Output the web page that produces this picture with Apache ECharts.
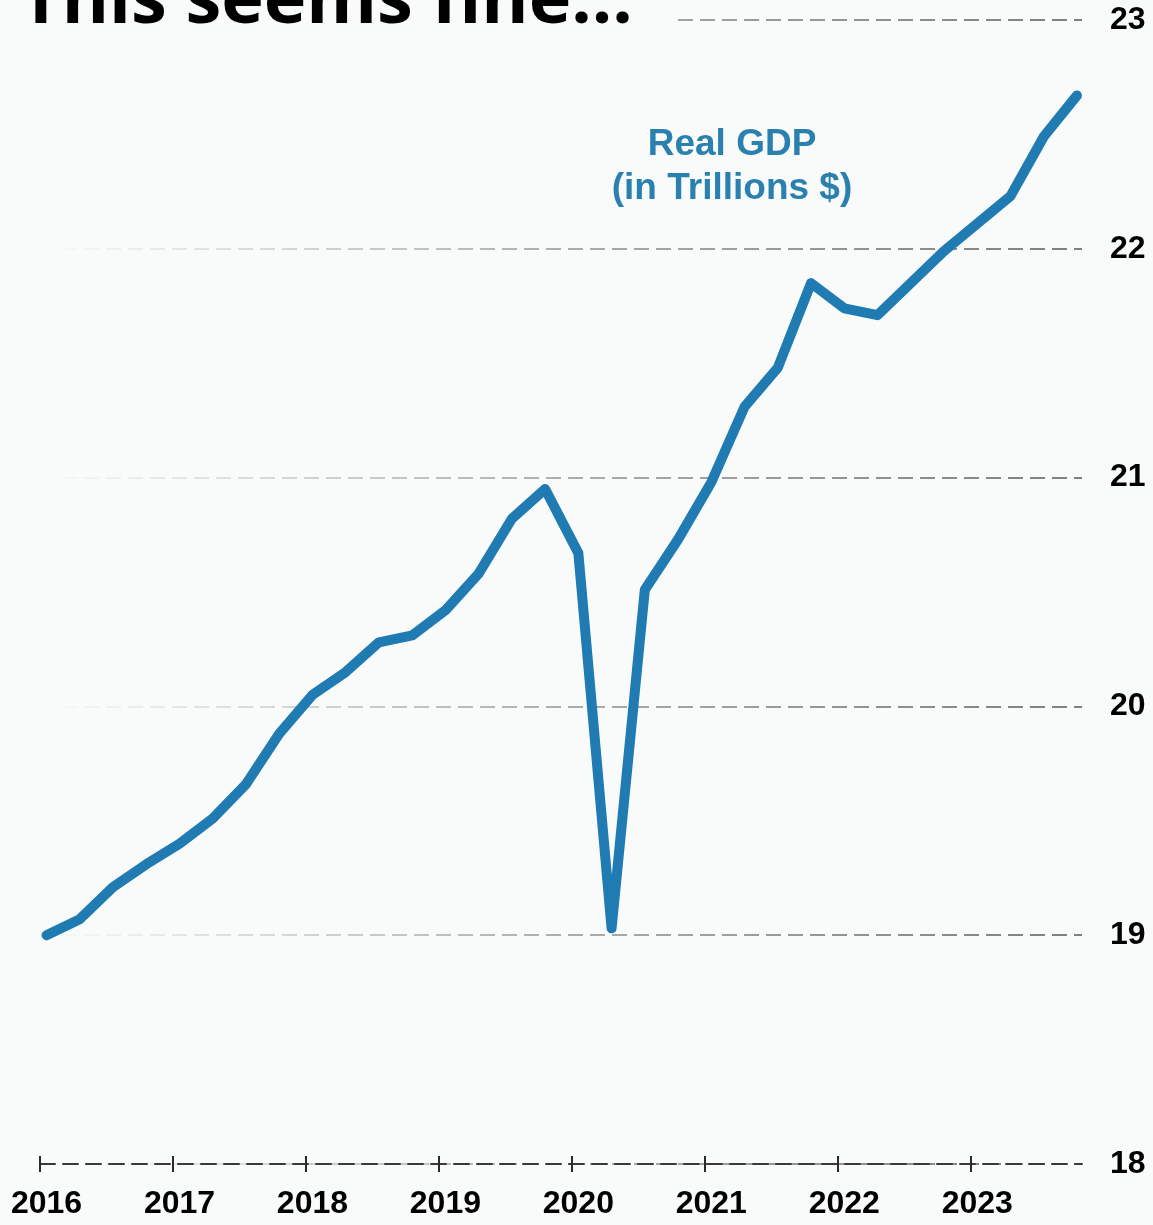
<!DOCTYPE html>
<html>
<head>
<meta charset="utf-8">
<script src="https://cdn.jsdelivr.net/npm/echarts@6/dist/echarts.min.js"></script>
<style>
  html, body { margin: 0; padding: 0; background: #f9fbfb; }
  #chart { width: 1153px; height: 1225px; }
</style>
</head>
<body>
<div id="chart"></div>
<script>
// Quarterly real GDP, trillions of dollars
const quarters = [
  '2016Q1', '2016Q2', '2016Q3', '2016Q4',
  '2017Q1', '2017Q2', '2017Q3', '2017Q4',
  '2018Q1', '2018Q2', '2018Q3', '2018Q4',
  '2019Q1', '2019Q2', '2019Q3', '2019Q4',
  '2020Q1', '2020Q2', '2020Q3', '2020Q4',
  '2021Q1', '2021Q2', '2021Q3', '2021Q4',
  '2022Q1', '2022Q2', '2022Q3', '2022Q4',
  '2023Q1', '2023Q2', '2023Q3', '2023Q4'
];
const gdp = [
  19.00, 19.07, 19.21, 19.31,
  19.40, 19.51, 19.66, 19.88,
  20.05, 20.15, 20.28, 20.31,
  20.42, 20.58, 20.82, 20.95,
  20.67, 19.03, 20.51, 20.73,
  20.98, 21.31, 21.48, 21.85,
  21.74, 21.71, 21.85, 21.99,
  22.11, 22.23, 22.49, 22.67
];
const yearTicks = [2016, 2017, 2018, 2019, 2020, 2021, 2022, 2023];
const yMin = 18, yMax = 23, yStep = 1;

const title = 'This seems fine...';
const seriesLabel = ['Real GDP', '(in Trillions $)'];

const BG = '#f9fbfb';
const LINE = '#1f7bb2';
const LABEL_BLUE = '#2a80ae';

// year axis range; the data points sit a couple of weeks past each year mark
const xMin = 2016, xMax = 2023.837, dataShift = 0.049;

// quarter label -> fractional year
const toYear = q => Number(q.slice(0, 4)) + (Number(q.slice(5)) - 1) / 4;
const points = quarters.map((q, i) => [toYear(q), gdp[i]]);

const chart = echarts.init(document.getElementById('chart'), null, { renderer: 'canvas' });

const gridLeft = 40, gridRight = 71;
const gridFade = new echarts.graphic.LinearGradient(gridLeft, 0, 1153 - gridRight, 0, [
  { offset: 0, color: 'rgba(120,120,120,0)' },
  { offset: 0.5, color: 'rgba(120,120,120,0.6)' },
  { offset: 1, color: 'rgba(120,120,120,0.95)' }
], true);

const axisFont = { fontFamily: '"Liberation Sans", Arial, sans-serif', fontWeight: 'bold', fontSize: 32, color: '#000' };

chart.setOption({
  backgroundColor: BG,
  animation: false,
  grid: { left: gridLeft, right: gridRight, top: 20, bottom: 61, containLabel: false, outerBoundsMode: 'none' },
  xAxis: [
    {
      // dashed baseline with upward tick marks
      type: 'value', position: 'bottom', offset: 0, min: xMin, max: xMax,
      axisLine: { show: true, onZero: false, lineStyle: { color: '#3a3a3a', width: 2, type: [15, 8] } },
      axisTick: { show: true, inside: true, length: 8, customValues: yearTicks, lineStyle: { color: '#2a2a2a', width: 2 } },
      axisLabel: { show: false },
      splitLine: { show: false }
    },
    {
      // downward tick marks
      type: 'value', position: 'bottom', offset: 0, min: xMin, max: xMax,
      axisLine: { show: false, onZero: false },
      axisTick: { show: true, inside: false, length: 8, customValues: yearTicks, lineStyle: { color: '#2a2a2a', width: 2 } },
      axisLabel: { show: false },
      splitLine: { show: false }
    },
    {
      // data axis carrying the year labels
      type: 'value', position: 'bottom', offset: 0, min: xMin - dataShift, max: xMax - dataShift,
      axisLine: { show: false, onZero: false },
      axisTick: { show: false },
      axisLabel: Object.assign({ show: true, margin: 24, customValues: yearTicks, formatter: v => String(v) }, axisFont),
      splitLine: { show: false }
    }
  ],
  yAxis: {
    type: 'value', position: 'right', min: yMin, max: yMax, interval: yStep,
    axisLine: { show: false },
    axisTick: { show: false },
    axisLabel: Object.assign({ margin: 28, align: 'left' }, axisFont),
    splitLine: { show: true, lineStyle: { color: gridFade, width: 2, type: [15, 7] } }
  },
  series: [{
    type: 'line',
    xAxisIndex: 2,
    data: points,
    showSymbol: false,
    lineStyle: { color: LINE, width: 10, cap: 'round', join: 'round' },
    z: 5
  }],
  graphic: [
    { type: 'rect', z: 100, shape: { x: 0, y: 0, width: 678, height: 45 }, style: { fill: BG } },
    { type: 'text', z: 101, x: 20, y: 2,
      style: { text: title, font: 'bold 72px "Open Sans", sans-serif', fill: '#000', verticalAlign: 'middle', align: 'left' } },
    { type: 'text', z: 101, x: 732, y: 145,
      style: { text: seriesLabel[0], font: 'bold 37px "Liberation Sans", Arial, sans-serif', fill: LABEL_BLUE, align: 'center', verticalAlign: 'middle' } },
    { type: 'text', z: 101, x: 732, y: 189,
      style: { text: seriesLabel[1], font: 'bold 37px "Liberation Sans", Arial, sans-serif', fill: LABEL_BLUE, align: 'center', verticalAlign: 'middle' } }
  ]
});
</script>
</body>
</html>
